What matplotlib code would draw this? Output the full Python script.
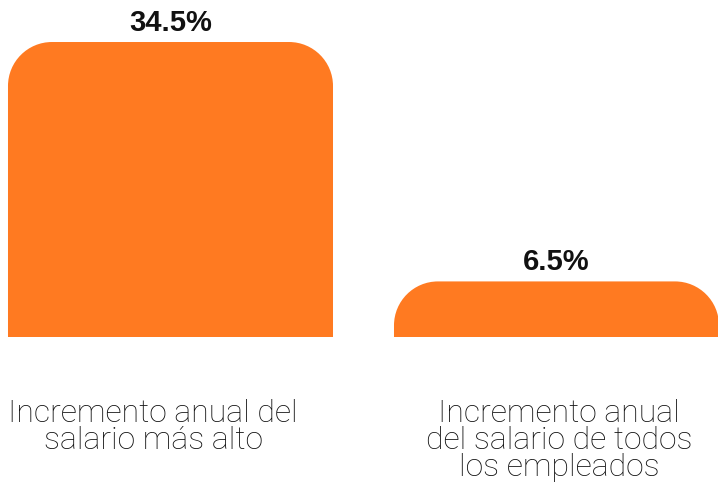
import matplotlib.pyplot as plt
from matplotlib.path import Path
from matplotlib.patches import PathPatch

# ---------- data ----------
categories = ["Incremento anual del\nsalario más alto",
              "Incremento anual\ndel salario de todos\nlos empleados"]
values = [34.5, 6.5]
value_labels = ["34.5%", "6.5%"]

BAR_COLOR = "#FF7A21"
BAR_WIDTH = 0.842
RADIUS_PX = 44  # corner radius in pixels

fig = plt.figure(figsize=(7.18, 4.89), dpi=100)
ax = fig.add_axes([0, 0, 1, 1])
ax.set_xlim(-0.4417, 1.4184)
ax.set_ylim(-17.66, 39.53)
ax.axis("off")

# pixel -> data scale factors so the rounded corners come out circular
fig.canvas.draw()
(x0, y0), (x1, y1) = ax.transData.transform([(0, 0), (1, 1)])
px_per_x = x1 - x0
px_per_y = y1 - y0


def rounded_top_bar(xc, h, w):
    rx = min(RADIUS_PX / px_per_x, w / 2)
    ry = min(RADIUS_PX / px_per_y, h)
    left, right = xc - w / 2, xc + w / 2
    k = 0.5523  # bezier circle constant
    verts = [
        (left, 0),
        (left, h - ry),
        (left, h - ry + k * ry), (left + rx - k * rx, h), (left + rx, h),
        (right - rx, h),
        (right - rx + k * rx, h), (right, h - ry + k * ry), (right, h - ry),
        (right, 0),
        (left, 0),
    ]
    codes = [Path.MOVETO, Path.LINETO,
             Path.CURVE4, Path.CURVE4, Path.CURVE4,
             Path.LINETO,
             Path.CURVE4, Path.CURVE4, Path.CURVE4,
             Path.LINETO, Path.CLOSEPOLY]
    return PathPatch(Path(verts, codes), facecolor=BAR_COLOR, edgecolor="none")


for i, (v, lab) in enumerate(zip(values, value_labels)):
    ax.add_patch(rounded_top_bar(i, v, BAR_WIDTH))
    ax.text(i, v + 0.7, lab, ha="center", va="bottom",
            fontsize=21, fontweight="bold", family="Liberation Sans",
            color="#111111")

# category labels under the bars
label_x = [-0.045, 1.006]
for x, cat in zip(label_x, categories):
    ax.text(x, -7.1, cat, ha="center", va="top", fontsize=23,
            family="Roboto", fontweight="light", linespacing=0.93,
            color="#111111")

fig.savefig("out.png", dpi=100)
